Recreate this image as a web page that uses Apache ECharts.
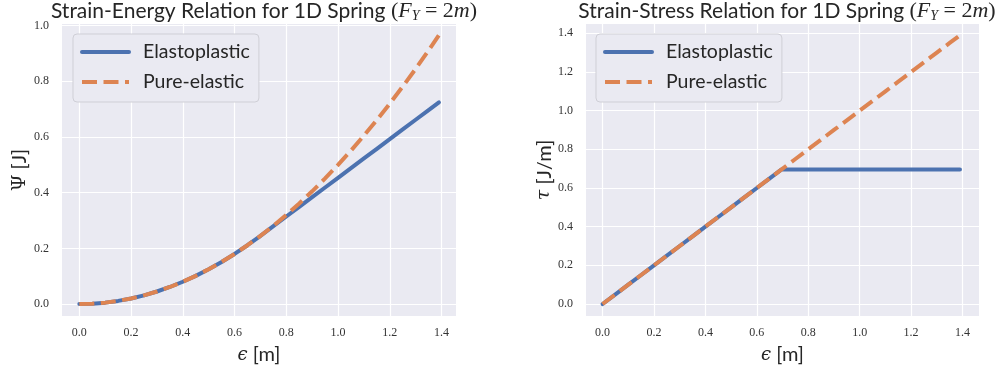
<!DOCTYPE html>
<html>
<head>
<meta charset="utf-8">
<script src="https://cdn.jsdelivr.net/npm/echarts@6/dist/echarts.min.js"></script>
<style>
html,body{margin:0;padding:0;background:#fff;}
#chart{width:995px;height:373px;}
</style>
</head>
<body>
<div id="chart"></div>
<script>
// ---- data ----
const strain = [0, 0.05, 0.1, 0.15, 0.2, 0.25, 0.3, 0.35, 0.4, 0.45, 0.5, 0.55, 0.6, 0.65, 0.695,
  0.75, 0.8, 0.85, 0.9, 0.95, 1.0, 1.05, 1.1, 1.15, 1.2, 1.25, 1.3, 1.35, 1.39];
const energyElastoplastic = [0, 0.00125, 0.005, 0.01125, 0.02, 0.03125, 0.045, 0.06125, 0.08, 0.10125, 0.125, 0.15125, 0.18, 0.21125, 0.2415,
  0.2797, 0.3145, 0.3492, 0.384, 0.4187, 0.4535, 0.4882, 0.523, 0.5577, 0.5925, 0.6272, 0.662, 0.6967, 0.7245];
const energyElastic = [0, 0.00125, 0.005, 0.01125, 0.02, 0.03125, 0.045, 0.06125, 0.08, 0.10125, 0.125, 0.15125, 0.18, 0.21125, 0.2415,
  0.28125, 0.32, 0.36125, 0.405, 0.45125, 0.5, 0.55125, 0.605, 0.66125, 0.72, 0.78125, 0.845, 0.91125, 0.966];
const stressElastoplastic = [0, 0.05, 0.1, 0.15, 0.2, 0.25, 0.3, 0.35, 0.4, 0.45, 0.5, 0.55, 0.6, 0.65, 0.695,
  0.695, 0.695, 0.695, 0.695, 0.695, 0.695, 0.695, 0.695, 0.695, 0.695, 0.695, 0.695, 0.695, 0.695];
const stressElastic = [0, 0.05, 0.1, 0.15, 0.2, 0.25, 0.3, 0.35, 0.4, 0.45, 0.5, 0.55, 0.6, 0.65, 0.695,
  0.75, 0.8, 0.85, 0.9, 0.95, 1.0, 1.05, 1.1, 1.15, 1.2, 1.25, 1.3, 1.35, 1.39];
const xTicks = [0, 0.2, 0.4, 0.6, 0.8, 1.0, 1.2, 1.4];
const yTicksEnergy = [0, 0.2, 0.4, 0.6, 0.8, 1.0];
const yTicksStress = [0, 0.2, 0.4, 0.6, 0.8, 1.0, 1.2, 1.4];
const seriesNames = ['Elastoplastic', 'Pure-elastic'];

const pairs = (xs, ys) => xs.map((x, i) => [x, ys[i]]);

const BLUE = '#4C72B0', ORANGE = '#DD8452';
const SANS = 'Lato';
const SERIF = 'Liberation Serif';
const MATHSYM = 'DejaVu Serif';

const tickLabel = { color: '#333', fontFamily: SERIF, fontSize: 12, formatter: v => v.toFixed(1) };

function xAxisCfg(gridIndex, min, max) {
  return {
    type: 'value', gridIndex, min, max,
    axisLine: { show: false },
    axisTick: { show: false, customValues: xTicks },
    axisLabel: Object.assign({ margin: 11, customValues: xTicks }, tickLabel),
    splitLine: { show: true, lineStyle: { color: '#ffffff', width: 1.2 } },
    name: '{e|ϵ} [m]',
    nameLocation: 'middle', nameGap: 29,
    nameTextStyle: { fontFamily: SANS, fontSize: 20, color: '#262626',
      rich: { e: { fontFamily: MATHSYM, fontStyle: 'italic', fontSize: 18, color: '#262626' } } }
  };
}
function yAxisCfg(gridIndex, min, max, ticks, name, gap) {
  return {
    type: 'value', gridIndex, min, max,
    axisLine: { show: false },
    axisTick: { show: false, customValues: ticks },
    axisLabel: Object.assign({ margin: 13, customValues: ticks }, tickLabel),
    splitLine: { show: true, lineStyle: { color: '#ffffff', width: 1.2 } },
    name, nameLocation: 'middle', nameGap: gap,
    nameTextStyle: { fontFamily: SANS, fontSize: 20, color: '#262626',
      rich: {
        g: { fontFamily: MATHSYM, fontSize: 19, color: '#262626' },
        t: { fontFamily: MATHSYM, fontStyle: 'italic', fontSize: 19, color: '#262626' }
      } }
  };
}

const titleRich = {
  m: { fontFamily: SERIF, fontSize: 22, color: '#262626' },
  mi: { fontFamily: SERIF, fontStyle: 'italic', fontSize: 22, color: '#262626' },
  sub: { fontFamily: SERIF, fontStyle: 'italic', fontSize: 14, color: '#262626', padding: [9, 0, 0, 0] }
};
function titleCfg(text, center) {
  return {
    text: text + ' {m|(}{mi|F}{sub|Y}{m| = 2}{mi|m}{m|)}',
    left: center, top: -5, textAlign: 'center',
    textStyle: { fontFamily: SANS, fontSize: 21, fontWeight: 'normal', color: '#262626', rich: titleRich }
  };
}

function legendCfg(left) {
  return {
    left, top: 34, orient: 'vertical',
    data: seriesNames.map(n => ({ name: n, itemStyle: { opacity: 0 } })),
    itemWidth: 47, itemHeight: 18, itemGap: 10,
    padding: [8, 9, 10, 7],
    backgroundColor: '#EAEAF2', borderColor: '#cfcfd6', borderWidth: 1, borderRadius: 4,
    lineStyle: { width: 4 },
    textStyle: { fontFamily: SANS, fontSize: 19.5, color: '#262626', lineHeight: 18, padding: [0, 0, 0, 9] }
  };
}

const chart = echarts.init(document.getElementById('chart'), null, { renderer: 'canvas' });
const option = {
  backgroundColor: '#ffffff',
  animation: false,
  title: [
    titleCfg('Strain-Energy Relation for 1D Spring', 259),
    titleCfg('Strain-Stress Relation for 1D Spring', 782)
  ],
  grid: [
    { left: 62, top: 24, width: 394, height: 292, backgroundColor: '#EAEAF2', show: true, borderWidth: 0 },
    { left: 586, top: 24, width: 393, height: 292, backgroundColor: '#EAEAF2', show: true, borderWidth: 0 }
  ],
  xAxis: [ xAxisCfg(0, -0.067, 1.456), xAxisCfg(1, -0.0645, 1.464) ],
  yAxis: [
    yAxisCfg(0, -0.043, 1.006, yTicksEnergy, '{g|Ψ} [J]', 32),
    yAxisCfg(1, -0.062, 1.448, yTicksStress, '{t|τ} [J/m]', 28)
  ],
  legend: [ legendCfg(73), legendCfg(596) ],
  series: [
    { name: seriesNames[0], type: 'line', xAxisIndex: 0, yAxisIndex: 0, showSymbol: false, symbol: 'none',
      data: pairs(strain, energyElastoplastic), lineStyle: { color: BLUE, width: 4, cap: 'round', join: 'round' },
      itemStyle: { color: BLUE }, z: 2 },
    { name: seriesNames[1], type: 'line', xAxisIndex: 0, yAxisIndex: 0, showSymbol: false, symbol: 'none',
      data: pairs(strain, energyElastic), lineStyle: { color: ORANGE, width: 4, type: [15, 6.5], cap: 'butt' },
      itemStyle: { color: ORANGE }, z: 3 },
    { name: seriesNames[0], type: 'line', xAxisIndex: 1, yAxisIndex: 1, showSymbol: false, symbol: 'none',
      data: pairs(strain, stressElastoplastic), lineStyle: { color: BLUE, width: 4, cap: 'round', join: 'round' },
      itemStyle: { color: BLUE }, z: 2 },
    { name: seriesNames[1], type: 'line', xAxisIndex: 1, yAxisIndex: 1, showSymbol: false, symbol: 'none',
      data: pairs(strain, stressElastic), lineStyle: { color: ORANGE, width: 4, type: [15, 6.5], cap: 'butt' },
      itemStyle: { color: ORANGE }, z: 3 }
  ]
};
chart.setOption(option);
</script>
</body>
</html>
